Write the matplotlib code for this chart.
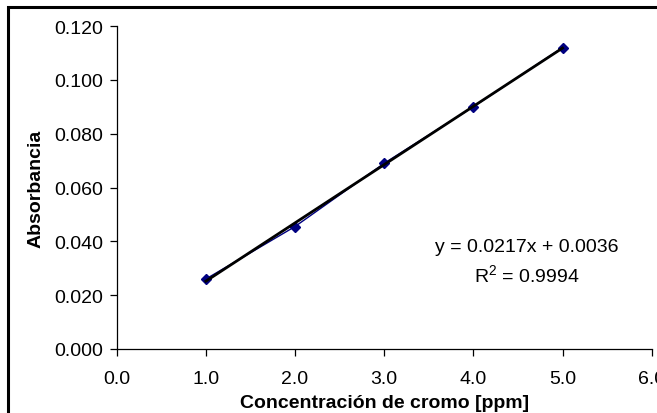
import matplotlib
matplotlib.use("Agg")
import matplotlib.pyplot as plt
from matplotlib.patches import Rectangle
import numpy as np

conc = [1.0, 2.0, 3.0, 4.0, 5.0]
absorb = [0.026, 0.0455, 0.069, 0.090, 0.112]
xticks = [0.0, 1.0, 2.0, 3.0, 4.0, 5.0, 6.0]
yticks = [0.000, 0.020, 0.040, 0.060, 0.080, 0.100, 0.120]
eq_text = "y = 0.0217x + 0.0036"
r2_text = "R$^2$ = 0.9994"

plt.rcParams['font.family'] = ['Liberation Sans', 'DejaVu Sans']
plt.rcParams['mathtext.fontset'] = 'custom'
plt.rcParams['mathtext.rm'] = 'Liberation Sans'

fig = plt.figure(figsize=(6.57, 4.14), dpi=100)
ax = fig.add_axes([116.7/657, 1-350/414, (651.7-116.7)/657, (350-27)/414])

# chart border
fig.patches.append(Rectangle((8/657, -0.2), 1.2, 1.2 + (1 - 8/414) - 1.0,
                             transform=fig.transFigure, fill=False,
                             edgecolor='black', linewidth=2.2))

coef = np.polyfit(conc, absorb, 1)
xfit = np.array([conc[0], conc[-1]])
ax.plot(conc, absorb, color='#000080', lw=1.0, marker='D', markersize=5,
        markerfacecolor='#000080', markeredgecolor='#000080', zorder=3)
ax.plot(xfit, np.polyval(coef, xfit), color='black', lw=2.0, zorder=4)

ax.set_xlim(0, 6)
ax.set_ylim(0, 0.12)
ax.set_xticks(xticks)
ax.set_yticks(yticks)
ax.set_xticklabels([f"{v:.1f}" for v in xticks])
ax.set_yticklabels([f"{v:.3f}" for v in yticks])
for s in ['top', 'right']:
    ax.spines[s].set_visible(False)
for s in ['left', 'bottom']:
    ax.spines[s].set_linewidth(0.9)
ax.tick_params(axis='both', direction='out', length=5, width=0.9, labelsize=14, pad=5)
ax.tick_params(axis='x', pad=10)

ax.set_xlabel("Concentración de cromo [ppm]", fontsize=14, fontweight='bold', labelpad=5)
ax.set_ylabel("Absorbancia", fontsize=14, fontweight='bold', labelpad=7)

ax.text(4.60, 0.0379, eq_text, ha='center', va='center', fontsize=14)
ax.text(4.60, 0.0275, r2_text, ha='center', va='center', fontsize=14)

fig.savefig("out.png", dpi=100)
